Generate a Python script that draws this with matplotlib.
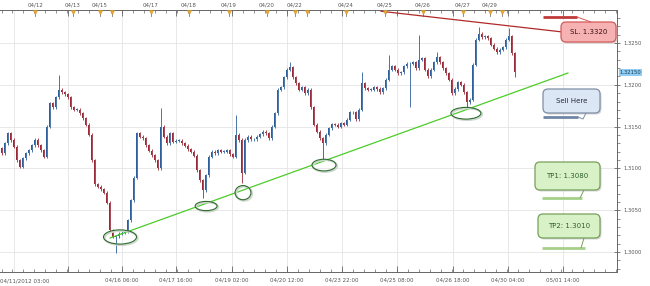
import numpy as np
import matplotlib
matplotlib.use('Agg')
import matplotlib.pyplot as plt
from matplotlib.patches import FancyBboxPatch, Ellipse
from matplotlib.lines import Line2D
from matplotlib.ticker import MultipleLocator, FixedLocator
import matplotlib.transforms as mtransforms

# hourly closes (one every ~3 px)
closes = [
    1.3118, 1.3130, 1.3142, 1.3134, 1.3126, 1.3110, 1.3102, 1.3112, 1.3118, 1.3122,
    1.3128, 1.3134, 1.3128, 1.3122, 1.3114, 1.3150, 1.3178, 1.3173, 1.3185, 1.3194,
    1.3191, 1.3189, 1.3185, 1.3173, 1.3170, 1.3170, 1.3166, 1.3160, 1.3152, 1.3140,
    1.3110, 1.3081, 1.3078, 1.3075, 1.3071, 1.3059, 1.3026, 1.3018, 1.3019, 1.3022,
    1.3023, 1.3024, 1.3038, 1.3062, 1.3089, 1.3142, 1.3138, 1.3136, 1.3128, 1.3121,
    1.3116, 1.3110, 1.3100, 1.3150, 1.3138, 1.3130, 1.3142, 1.3132, 1.3133, 1.3133,
    1.3130, 1.3127, 1.3123, 1.3120, 1.3115, 1.3098, 1.3086, 1.3074, 1.3092, 1.3114,
    1.3120, 1.3118, 1.3122, 1.3120, 1.3120, 1.3122, 1.3117, 1.3114, 1.3140, 1.3134,
    1.3095, 1.3134, 1.3138, 1.3135, 1.3135, 1.3138, 1.3141, 1.3144, 1.3142, 1.3136,
    1.3150, 1.3166, 1.3194, 1.3197, 1.3209, 1.3218, 1.3221, 1.3209, 1.3202, 1.3194,
    1.3197, 1.3190, 1.3194, 1.3173, 1.3152, 1.3144, 1.3136, 1.3130, 1.3140, 1.3148,
    1.3153, 1.3152, 1.3150, 1.3154, 1.3152, 1.3158, 1.3167, 1.3167, 1.3159, 1.3170,
    1.3202, 1.3196, 1.3194, 1.3194, 1.3197, 1.3195, 1.3191, 1.3196, 1.3206, 1.3218,
    1.3222, 1.3218, 1.3214, 1.3215, 1.3222, 1.3225, 1.3225, 1.3227, 1.3220, 1.3230,
    1.3232, 1.3218, 1.3210, 1.3218, 1.3227, 1.3233, 1.3227, 1.3220, 1.3214, 1.3206,
    1.3190, 1.3195, 1.3203, 1.3200, 1.3191, 1.3179, 1.3182, 1.3224, 1.3254, 1.3261,
    1.3257, 1.3258, 1.3256, 1.3248, 1.3243, 1.3239, 1.3242, 1.3245, 1.3254, 1.3258,
    1.3238, 1.3215,
]
first_open = 1.3124
spike_highs = {19: 1.3212, 53: 1.3172, 78: 1.3164, 96: 1.3227, 120: 1.3215,
               129: 1.3236, 139: 1.3260, 145: 1.3239, 159: 1.3269, 169: 1.3268}
spike_lows = {38: 1.2999, 67: 1.3065, 80: 1.3083, 107: 1.3110, 136: 1.3173,
              155: 1.3172, 171: 1.3209}
wick = 0.00018

bottom_ticks = [22.2, 40.2, 58.2, 76.8, 95.2, 113.5, 131.8, 150.5, 168.8, 187.2]
bottom_labels = ['', '04/16 06:00', '04/17 16:00', '04/19 02:00', '04/20 12:00',
                 '04/23 22:00', '04/25 08:00', '04/26 18:00', '04/30 04:00', '05/01 14:00']
first_label = '04/11/2012 03:00'

top_pos = [11.2, 23.8, 32.8, 49.8, 62.5, 75.8, 88.5, 97.8, 114.8, 127.8, 140.5, 153.8, 162.8]
top_labels = ['04/12', '04/13', '04/15', '04/17', '04/18', '04/19', '04/20', '04/22',
              '04/24', '04/25', '04/26', '04/27', '04/29']
extra_events = [36.8, 101.8, 166.8]

price_ticks = [1.3000, 1.3050, 1.3100, 1.3150, 1.3200, 1.3250]
last_price = '1.32150'

trend_line = ([36.2, 188.8], [1.30168, 1.32141])
sl_line = ([126.5, 187.5], [1.3288, 1.3263])
# (index, price, width, height)
circles = [(39.5, 1.3018, 11, 0.0017), (68.2, 1.3055, 7.3, 0.0011),
           (80.5, 1.3071, 5.3, 0.0017), (107.5, 1.3104, 8, 0.0014),
           (154.8, 1.3166, 10, 0.0014)]

W, H = 650, 286
fig = plt.figure(figsize=(W / 100, H / 100), dpi=100)
ax = fig.add_axes([0, 1 - 272 / H, 617 / W, 262 / H])

c = np.array(closes)
o = np.concatenate([[first_open], c[:-1]])
hi = np.maximum(o, c) + wick
lo = np.minimum(o, c) - wick
for k, v in spike_highs.items():
    hi[k] = v
for k, v in spike_lows.items():
    lo[k] = v
idx = np.arange(len(c))
up = c >= o
cols = np.where(up, '#2d5f9c', '#9c2838')

ax.vlines(idx, lo, hi, colors=cols, lw=0.6, zorder=3)
body = np.maximum(np.abs(c - o), 0.00005)
ax.bar(idx, body, bottom=np.minimum(o, c), width=0.65, color=cols, lw=0, zorder=4)

ax.set_xlim(-0.5, 617 / 3 - 0.5)
ax.set_ylim(1.29761, 1.32895)

# grid
for p in price_ticks:
    ax.axhline(p, color='#e4e4e4', lw=0.6, zorder=0)
for t in [4.0] + bottom_ticks:
    ax.axvline(t, color='#e4e4e4', lw=0.6, zorder=0)

# axes and ticks
ax.spines['left'].set_visible(False)
for s in ['top', 'bottom', 'right']:
    ax.spines[s].set_color('#666666')
    ax.spines[s].set_linewidth(0.7)
ax.xaxis.set_major_locator(FixedLocator(bottom_ticks))
ax.set_xticklabels(bottom_labels)
ax.xaxis.set_minor_locator(MultipleLocator(3.66))
ax.tick_params(axis='x', which='both', top=True, bottom=True, direction='in',
               color='#666666', labelsize=4.0, labelcolor='#555555', pad=4.2)
ax.tick_params(axis='x', which='major', length=4, width=0.6)
ax.tick_params(axis='x', which='minor', length=2, width=0.5)
ax.text(0, -9 / 262, first_label, transform=ax.transAxes, ha='left', va='center',
        fontsize=4.0, color='#555555')

ax.yaxis.tick_right()
ax.set_yticks(price_ticks)
ax.set_yticklabels(['%.4f' % p for p in price_ticks])
ax.yaxis.set_minor_locator(MultipleLocator(0.001))
ax.tick_params(axis='y', which='both', left=False, right=True, color='#666666',
               labelsize=3.8, labelcolor='#555555', pad=2)
ax.tick_params(axis='y', which='major', direction='inout', length=5, width=0.6)
ax.tick_params(axis='y', which='minor', direction='out', length=2, width=0.5)

ty = mtransforms.blended_transform_factory(ax.transAxes, ax.transData)
ax.text(1.004, float(last_price), last_price, transform=ty, ha='left', va='center',
        fontsize=3.8, color='#1a3a5a',
        bbox=dict(boxstyle='square,pad=0.15', fc='#8fcdf2', ec='none'))

# top calendar strip
tx = mtransforms.blended_transform_factory(ax.transData, ax.transAxes)
for p, lab in zip(top_pos, top_labels):
    ax.text(p, 1 + 5 / 262, lab, transform=tx, ha='center', va='center', fontsize=4.0,
            color='#555555', clip_on=False)
for p in top_pos + extra_events:
    ax.plot([p, p], [1 - 6 / 262, 1.0], transform=tx, color='#777777', lw=0.6, clip_on=False, zorder=5)
    ax.plot([p], [1 - 2 / 262], transform=tx, marker='v', ms=3.2, color='#e9a93a',
            mec='#c48a20', mew=0.3, clip_on=False, zorder=6)

# annotation lines
ax.plot(*trend_line, color='#4ccc2a', lw=0.9, zorder=5)
ax.plot(*sl_line, color='#b02a2a', lw=0.9, zorder=5)
for cx, cy, w, h in circles:
    ax.add_patch(Ellipse((cx + 0.4, cy - 0.00012), w, h, fill=False, ec='#cfd8cf', lw=1.4, zorder=5))
    ax.add_patch(Ellipse((cx, cy), w, h, fill=False, ec='#2f6a2f', lw=0.8, zorder=6))


def pl(xs, ys, color, lw):
    fig.add_artist(Line2D([x / 100 for x in xs], [(H - y) / 100 for y in ys],
                          transform=fig.dpi_scale_trans, color=color, lw=lw,
                          solid_capstyle='butt'))


def callout(x0, y0, x1, y1, text, fc, ec, tc, bar, barc, tail):
    pl([bar[0], bar[1]], [bar[2], bar[2]], barc, 2.0)
    pl(tail[0], tail[1], ec, 0.7)
    sh = FancyBboxPatch((x0 / 100 + 0.015, (H - y1) / 100 - 0.015), (x1 - x0) / 100, (y1 - y0) / 100,
                        boxstyle='round,pad=0,rounding_size=0.05', transform=fig.dpi_scale_trans,
                        fc='#bbbbbb', ec='none', alpha=0.6)
    fig.add_artist(sh)
    bx = FancyBboxPatch((x0 / 100, (H - y1) / 100), (x1 - x0) / 100, (y1 - y0) / 100,
                        boxstyle='round,pad=0,rounding_size=0.05', transform=fig.dpi_scale_trans,
                        fc=fc, ec=ec, lw=0.9)
    fig.add_artist(bx)
    fig.text((x0 + x1) / 2 / W, 1 - (y0 + y1) / 2 / H, text, ha='center', va='center',
             fontsize=5.0, color=tc)


callout(561, 22, 616, 42, 'SL. 1.3320', '#f6b2b2', '#d65a5a', '#3a1212',
        (543, 577, 17), '#c03a3a', ([577, 591], [17, 22]))
callout(543, 89, 600, 113, 'Sell Here', '#dce7f5', '#7f8ea5', '#2a2a3a',
        (543, 578, 117), '#6f86a6', ([586, 583, 578], [113, 119, 117]))
callout(535, 162, 600, 190, 'TP1: 1.3080', '#d9f1c6', '#76a05a', '#2e5e2e',
        (542, 582, 198), '#a6d08a', ([584, 580], [190, 198]))
callout(538, 214, 600, 238, 'TP2: 1.3010', '#d9f1c6', '#76a05a', '#2e5e2e',
        (542, 585, 248), '#a6d08a', ([584, 581], [238, 248]))

fig.savefig('out.png', dpi=100)
